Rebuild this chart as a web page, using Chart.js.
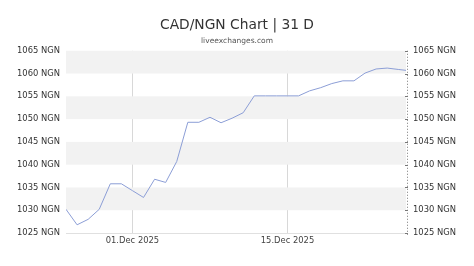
<!DOCTYPE html>
<html><head><meta charset="utf-8">
<script src="https://cdn.jsdelivr.net/npm/chart.js@4"></script>
<style>html,body{margin:0;padding:0;background:#fff}#wrap{width:474px;height:266px}</style>
</head><body><div id="wrap"><canvas id="c" width="474" height="266"></canvas></div>
<script>
// Day offsets from 25.Nov 2025
const days = [0,1,2,3,4,5,6,7,8,9,10,11,12,13,14,15,16,17,18,19,20,21,22,23,24,25,26,27,28,29,30,30.7];
const rates = [1030.2,1026.8,1028.0,1030.2,1035.8,1035.8,1034.3,1032.8,1036.8,1036.1,1040.7,1049.3,1049.3,1050.4,1049.2,1050.2,1051.4,1055.1,1055.1,1055.1,1055.1,1055.1,1056.2,1056.9,1057.8,1058.4,1058.4,1060.1,1061.0,1061.2,1060.9,1060.7];
const xTickPos = [6, 20];
const xTickLabels = ['01.Dec 2025', '15.Dec 2025'];
const yTicks = [1025,1030,1035,1040,1045,1050,1055,1060,1065];

const FONT = 'DejaVu Sans';
const bands = {
  id: 'bands',
  beforeDatasetsDraw(chart) {
    const {ctx, chartArea: a, scales: {y}} = chart;
    ctx.save();
    ctx.fillStyle = '#f2f2f2';
    for (let v = 1030; v < 1065; v += 10) {
      const t = y.getPixelForValue(v + 5), b = y.getPixelForValue(v);
      ctx.fillRect(a.left, t, a.right - a.left, b - t);
    }
    ctx.restore();
  },
  afterDraw(chart) {
    const {ctx, chartArea: a, scales: {y}} = chart;
    ctx.save();
    ctx.strokeStyle = '#777';
    ctx.lineWidth = 1;
    ctx.setLineDash([1, 2]);
    ctx.beginPath();
    ctx.moveTo(a.right + 1.5, a.top);
    ctx.lineTo(a.right + 1.5, a.bottom + 2);
    ctx.stroke();
    ctx.setLineDash([]);
    yTicks.forEach(v => {
      const p = Math.round(y.getPixelForValue(v)) + 0.5;
      ctx.beginPath();
      ctx.moveTo(a.right - 1, p);
      ctx.lineTo(a.right + 2, p);
      ctx.stroke();
    });
    ctx.restore();
  }
};

new Chart(document.getElementById('c'), {
  type: 'line',
  data: {
    datasets: [{
      data: days.map((d, i) => ({x: d, y: rates[i]})),
      borderColor: 'rgb(140,158,214)',
      borderWidth: 1,
      pointRadius: 0,
      tension: 0,
      fill: false
    }]
  },
  plugins: [bands],
  options: {
    responsive: false,
    animation: false,
    layout: {padding: {top: 0, bottom: 0, left: 0, right: 0}},
    plugins: {
      legend: {display: false},
      tooltip: {enabled: false},
      title: {
        display: true,
        text: 'CAD/NGN Chart | 31 D',
        color: '#333',
        font: {family: FONT, size: 13.8, weight: 'normal', lineHeight: 1.2},
        padding: {top: 17.5, bottom: 0}
      },
      subtitle: {
        display: true,
        text: 'liveexchanges.com',
        color: '#555',
        font: {family: FONT, size: 7.5, weight: 'normal', lineHeight: 1.2},
        padding: {top: 2.7, bottom: 5}
      }
    },
    scales: {
      x: {
        type: 'linear',
        min: 0,
        max: 30.7,
        afterBuildTicks(s) { s.ticks = xTickPos.map(v => ({value: v})); },
        afterFit(s) { s.height = 33; },
        ticks: {
          autoSkip: false,
          maxRotation: 0,
          color: '#444',
          font: {family: FONT, size: 8.4},
          padding: 3,
          callback(v) { const i = xTickPos.indexOf(v); return i >= 0 ? xTickLabels[i] : ''; }
        },
        grid: {color: '#d8d8d8', drawTicks: false, lineWidth: 1},
        border: {color: '#e0e0e0'}
      },
      y: {
        position: 'left',
        min: 1025,
        max: 1065,
        afterBuildTicks(s) { s.ticks = yTicks.map(v => ({value: v})); },
        afterFit(s) { s.width = 66; },
        ticks: {
          color: '#333',
          font: {family: FONT, size: 8.4},
          padding: 6,
          callback: v => v + ' NGN'
        },
        grid: {display: false, drawTicks: false, tickLength: 0},
        border: {display: false}
      },
      y2: {
        position: 'right',
        min: 1025,
        max: 1065,
        afterBuildTicks(s) { s.ticks = yTicks.map(v => ({value: v})); },
        afterFit(s) { s.width = 68; },
        ticks: {
          color: '#333',
          font: {family: FONT, size: 8.4},
          padding: 7,
          callback: v => v + ' NGN'
        },
        grid: {display: false, drawTicks: false, tickLength: 0},
        border: {display: false}
      }
    }
  }
});
</script></body></html>
